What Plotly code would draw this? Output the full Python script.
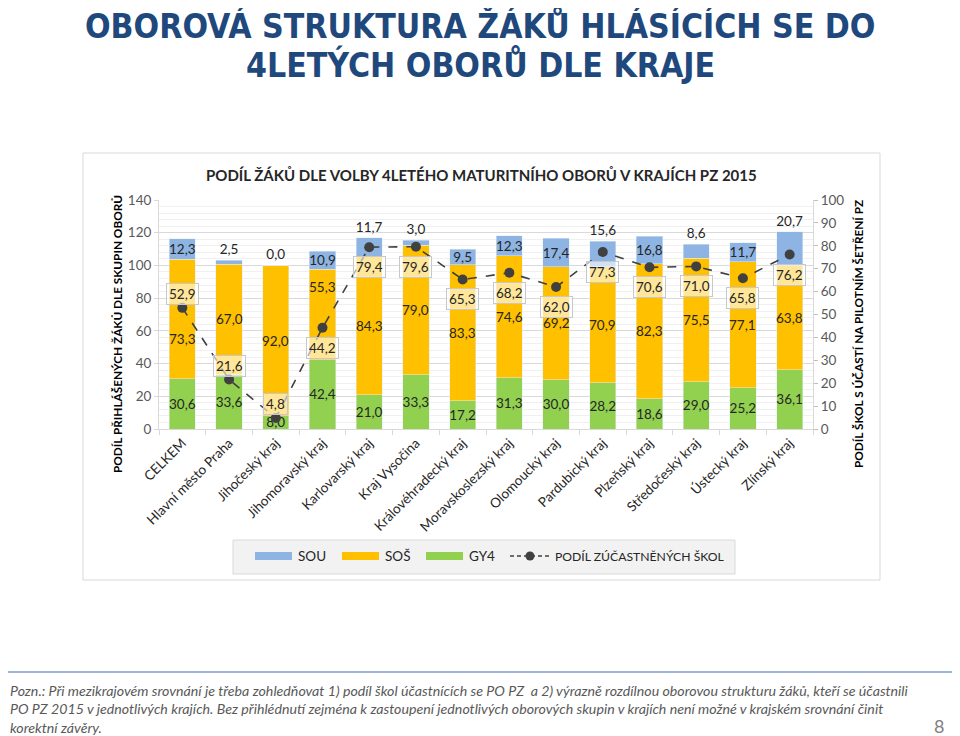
import plotly.graph_objects as go

# ---------------- data ----------------
categories = ["CELKEM", "Hlavní město Praha", "Jihočeský kraj", "Jihomoravský kraj",
              "Karlovarský kraj", "Kraj Vysočina", "Královéhradecký kraj",
              "Moravskoslezský kraj", "Olomoucký kraj", "Pardubický kraj",
              "Plzeňský kraj", "Středočeský kraj", "Ústecký kraj", "Zlínský kraj"]
gy4 = [30.6, 33.6, 8.0, 42.4, 21.0, 33.3, 17.2, 31.3, 30.0, 28.2, 18.6, 29.0, 25.2, 36.1]
sos = [73.3, 67.0, 92.0, 55.3, 84.3, 79.0, 83.3, 74.6, 69.2, 70.9, 82.3, 75.5, 77.1, 63.8]
sou = [12.3, 2.5, 0.0, 10.9, 11.7, 3.0, 9.5, 12.3, 17.4, 15.6, 16.8, 8.6, 11.7, 20.7]
podil_skol = [52.9, 21.6, 4.8, 44.2, 79.4, 79.6, 65.3, 68.2, 62.0, 77.3, 70.6, 71.0, 65.8, 76.2]

left_ticks = [0, 20, 40, 60, 80, 100, 120, 140]
right_ticks = [0, 10, 20, 30, 40, 50, 60, 70, 80, 90, 100]

# ---------------- styles (not data) ----------------
sou_label_pos = ["inside", "outside", "outside", "inside", "outside", "outside", "inside",
                 "inside", "inside", "outside", "inside", "outside", "inside", "outside"]
sos_label_shift = [-20, 0, 0, 27, 0, 0, 0, 0, 0, 0, 0, 0, 0, 0]   # px nudges of labels
line_label_above = [True, True, True, False, False, False, False,
                    False, False, False, False, False, False, False]

C_SOU = "#8DB4E2"
C_SOS = "#FFC000"
C_GY4 = "#92D050"
C_LINE = "#404040"
FONT = "Lato, 'Open Sans', sans-serif"
TITLE_FONT = "'DejaVu Sans Condensed', 'Liberation Sans Narrow', Lato, sans-serif"
TXT = "#262626"

# page body has an 8px margin -> figure origin sits at (8, 8) of the screenshot
OFF = 8
# plot area in screenshot pixels: x 159..813, y 200..429
L, R, T, B = 159, 813, 200, 429
W, H = R - L, B - T
FIG_W, FIG_H = 960, 736


def px(x):
    return (x - L) / W


def py(y):
    return (B - y) / H


def fmt(v):
    return f"{v:.1f}".replace(".", ",")


lbl_font = dict(size=13.5, color=TXT, family=FONT)

fig = go.Figure()

fig.add_trace(go.Bar(
    name="GY4", x=categories, y=gy4, marker_color=C_GY4,
    text=[fmt(v) for v in gy4], textposition="inside", insidetextanchor="middle",
    textangle=0, textfont=lbl_font, constraintext="none", cliponaxis=False))
fig.add_trace(go.Bar(
    name="SOŠ", x=categories, y=sos, marker_color=C_SOS, cliponaxis=False))
fig.add_trace(go.Bar(
    name="SOU", x=categories, y=sou, marker_color=C_SOU,
    text=[fmt(v) for v in sou], textposition=sou_label_pos, insidetextanchor="middle",
    textangle=0, textfont=lbl_font, outsidetextfont=lbl_font, constraintext="none",
    cliponaxis=False))
fig.add_trace(go.Scatter(
    name="PODÍL ZÚČASTNĚNÝCH ŠKOL", x=categories, y=podil_skol, yaxis="y2",
    mode="lines+markers",
    line=dict(color=C_LINE, width=1.6, dash="dash"),
    marker=dict(size=10, color=C_LINE)))

annotations = []
# SOŠ segment labels (centre of the segment, with a few manual nudges as in the original)
for c, g, s, sh in zip(categories, gy4, sos, sos_label_shift):
    annotations.append(dict(
        x=c, y=g + s / 2, xref="x", yref="y", text=fmt(s), showarrow=False,
        yshift=sh, font=lbl_font))
# line value labels
for c, v, above in zip(categories, podil_skol, line_label_above):
    annotations.append(dict(
        x=c, y=v, xref="x", yref="y2", text=fmt(v), showarrow=False,
        yshift=14 if above else -20,
        font=lbl_font,
        bgcolor="rgba(255,255,255,0.6)", bordercolor="#C8C8C8", borderwidth=1, borderpad=2))

# slide title
annotations.append(dict(
    xref="paper", yref="paper", x=px(480), y=py(26), xanchor="center", yanchor="middle",
    text="<b>OBOROVÁ STRUKTURA ŽÁKŮ HLÁSÍCÍCH SE DO</b>", showarrow=False,
    font=dict(size=33.5, color="#1F497D", family=TITLE_FONT)))
annotations.append(dict(
    xref="paper", yref="paper", x=px(480), y=py(65), xanchor="center", yanchor="middle",
    text="<b>4LETÝCH OBORŮ DLE KRAJE</b>", showarrow=False,
    font=dict(size=33.5, color="#1F497D", family=TITLE_FONT)))
# chart title
annotations.append(dict(
    xref="paper", yref="paper", x=px(481), y=py(175), xanchor="center", yanchor="middle",
    text="<b>PODÍL ŽÁKŮ DLE VOLBY 4LETÉHO MATURITNÍHO OBORŮ V KRAJÍCH PZ 2015</b>",
    showarrow=False, font=dict(size=15, color=TXT, family=FONT)))
# axis titles
annotations.append(dict(
    xref="paper", yref="paper", x=px(117), y=py(334), xanchor="center", yanchor="middle",
    text="<b>PODÍL PŘIHLÁŠENÝCH ŽÁKŮ DLE SKUPIN OBORŮ</b>", textangle=-90,
    showarrow=False, font=dict(size=11.8, color="#000000", family=FONT)))
annotations.append(dict(
    xref="paper", yref="paper", x=px(858), y=py(334), xanchor="center", yanchor="middle",
    text="<b>PODÍL ŠKOL S ÚČASTÍ NA PILOTNÍM ŠETŘENÍ PZ</b>", textangle=-90,
    showarrow=False, font=dict(size=11.8, color="#000000", family=FONT)))
# footnote
annotations.append(dict(
    xref="paper", yref="paper", x=px(8), y=py(680), xanchor="left", yanchor="top", align="left",
    text=("Pozn.: Při mezikrajovém srovnání je třeba zohledňovat 1) podíl škol účastnících se PO PZ  a 2) "
          "výrazně rozdílnou oborovou strukturu žáků, kteří se účastnili<br>"
          "PO PZ 2015 v jednotlivých krajích. Bez přihlédnutí zejména k zastoupení jednotlivých oborových "
          "skupin v krajích není možné v krajském srovnání činit<br>korektní závěry."),
    showarrow=False, font=dict(size=14.2, color="#595959", family=FONT, style="italic")))
annotations.append(dict(
    xref="paper", yref="paper", x=px(939), y=py(726), xanchor="center", yanchor="middle",
    text="8", showarrow=False, font=dict(size=18, color="#7F7F7F", family=FONT)))

shapes = [
    dict(type="rect", xref="paper", yref="paper", x0=px(83), x1=px(880), y0=py(580), y1=py(153),
         line=dict(color="#D9D9D9", width=1), fillcolor="rgba(0,0,0,0)", layer="below"),
    dict(type="line", xref="paper", yref="paper", x0=px(3), x1=px(952), y0=py(672), y1=py(672),
         line=dict(color="#7F9CCB", width=1.5)),
]

# ---- legend drawn as a box with wide swatches, like the original ----
LEG_Y = 556
shapes.append(dict(type="rect", xref="paper", yref="paper", x0=px(233), x1=px(735),
                   y0=py(574), y1=py(540), line=dict(color="#D9D9D9", width=1),
                   fillcolor="#F2F2F2", layer="above"))
legend_items = [("SOU", C_SOU, 255), ("SOŠ", C_SOS, 342), ("GY4", C_GY4, 426)]
for name, col, x0 in legend_items:
    shapes.append(dict(type="rect", xref="paper", yref="paper", x0=px(x0), x1=px(x0 + 37),
                       y0=py(LEG_Y + 4), y1=py(LEG_Y - 4), line=dict(width=0),
                       fillcolor=col, layer="above"))
    annotations.append(dict(xref="paper", yref="paper", x=px(x0 + 41), y=py(LEG_Y),
                            xanchor="left", yanchor="middle", text=name, showarrow=False,
                            font=dict(size=13.5, color=TXT, family=FONT)))
shapes.append(dict(type="line", xref="paper", yref="paper", x0=px(510), x1=px(550),
                   y0=py(LEG_Y), y1=py(LEG_Y), layer="above",
                   line=dict(color=C_LINE, width=1.5, dash="4px,3px")))
shapes.append(dict(type="circle", xref="paper", yref="paper", x0=px(525.5), x1=px(534.5),
                   y0=py(LEG_Y + 4.5), y1=py(LEG_Y - 4.5), layer="above",
                   line=dict(width=0), fillcolor=C_LINE))
annotations.append(dict(xref="paper", yref="paper", x=px(553), y=py(LEG_Y),
                        xanchor="left", yanchor="middle", text="PODÍL ZÚČASTNĚNÝCH ŠKOL",
                        showarrow=False, font=dict(size=12.2, color=TXT, family=FONT)))

fig.update_layout(
    width=FIG_W, height=FIG_H,
    margin=dict(l=L - OFF, r=FIG_W - (R - OFF), t=T - OFF, b=FIG_H - (B - OFF), autoexpand=False),
    paper_bgcolor="white", plot_bgcolor="white",
    barmode="stack", bargap=0.44,
    font=dict(family=FONT, size=13, color=TXT),
    showlegend=False,
    xaxis=dict(type="category", range=[-0.5, len(categories) - 0.5], autorange=False,
               tickangle=-45, ticks="outside", tickson="boundaries",
               ticklen=5, tickcolor="#D9D9D9", showline=True, linecolor="#D9D9D9",
               tickfont=dict(size=13.5, color=TXT, family=FONT), showgrid=False),
    yaxis=dict(range=[0, 140], tickvals=left_ticks, ticks="outside", ticklen=4,
               tickcolor="#D9D9D9", showline=True, linecolor="#D9D9D9",
               gridcolor="#D9D9D9", gridwidth=1, zeroline=False,
               minor=dict(dtick=4, showgrid=True, gridcolor="#F0F0F0", gridwidth=1),
               tickfont=dict(size=13.5, color="#595959", family=FONT)),
    yaxis2=dict(range=[0, 100], tickvals=right_ticks, overlaying="y", side="right",
                ticks="outside", ticklen=4, tickcolor="#BFBFBF", showline=True,
                linecolor="#D9D9D9", showgrid=False, zeroline=False,
                tickfont=dict(size=13.5, color="#595959", family=FONT)),
    annotations=annotations, shapes=shapes,
)

fig.write_html("out.html")
